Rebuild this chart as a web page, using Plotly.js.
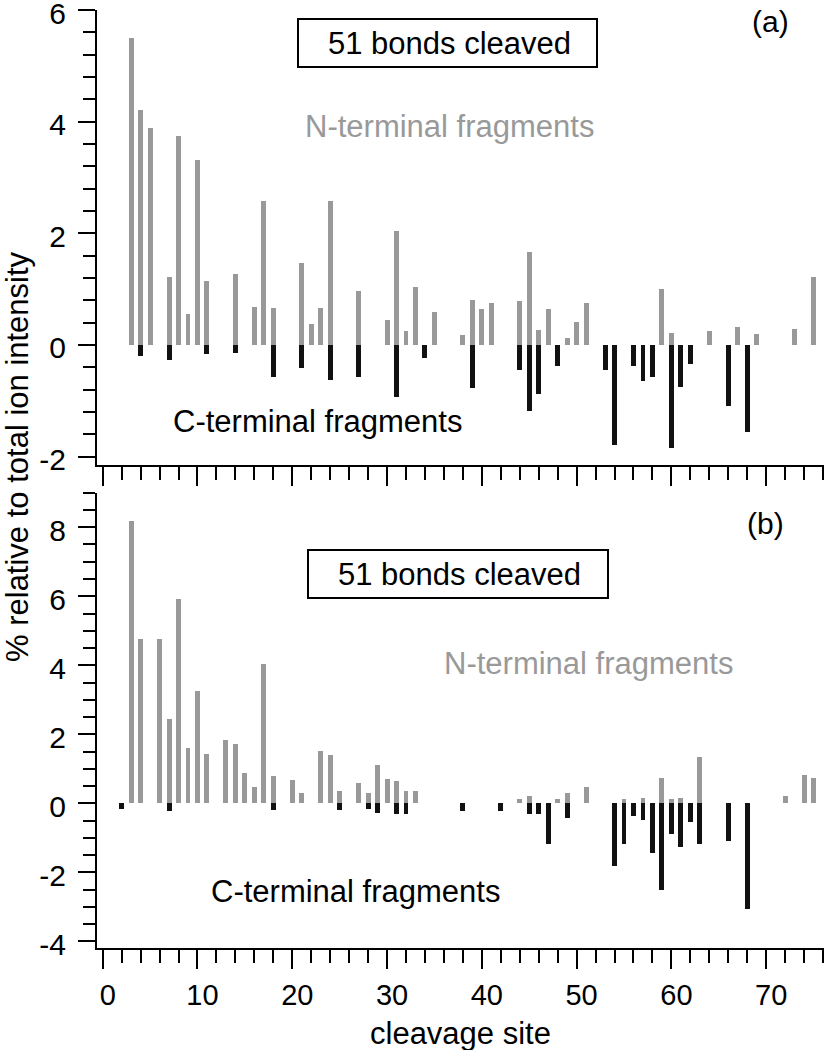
<!DOCTYPE html>
<html>
<head>
<meta charset="utf-8">
<script src="https://cdn.plot.ly/plotly-3.0.1.min.js"></script>
<style>html,body{margin:0;padding:0;background:#fff;}#chart{width:825px;height:1050px;}</style>
</head>
<body>
<div id="chart"></div>
<script>
// ---- Data (panel a) ----
var sitesA_N = [3,4,5,7,8,9,10,11,14,16,17,18,21,22,23,24,27,30,31,32,33,35,38,39,40,41,44,45,46,47,49,50,51,59,60,64,67,69,73,75];
var valsA_N  = [5.50,4.20,3.88,1.22,3.74,0.56,3.32,1.15,1.27,0.68,2.57,0.66,1.46,0.38,0.66,2.57,0.96,0.45,2.05,0.25,1.04,0.59,0.17,0.81,0.64,0.75,0.79,1.66,0.26,0.64,0.13,0.41,0.75,1.00,0.22,0.25,0.32,0.20,0.28,1.22];
var sitesA_C = [4,7,11,14,18,21,24,27,31,34,39,44,45,46,48,53,54,56,57,58,60,61,62,66,68];
var valsA_C  = [-0.20,-0.27,-0.17,-0.14,-0.57,-0.42,-0.63,-0.57,-0.93,-0.23,-0.77,-0.45,-1.19,-0.88,-0.37,-0.45,-1.79,-0.38,-0.64,-0.57,-1.84,-0.75,-0.34,-1.10,-1.56];
// ---- Data (panel b) ----
var sitesB_N = [3,4,6,7,8,9,10,11,13,14,15,16,17,18,20,21,23,24,25,27,28,29,30,31,32,33,44,45,48,49,51,55,57,59,60,61,63,72,74,75];
var valsB_N  = [8.19,4.77,4.77,2.43,5.93,1.59,3.26,1.42,1.83,1.73,0.87,0.48,4.03,0.79,0.68,0.29,1.51,1.39,0.35,0.59,0.29,1.11,0.70,0.65,0.36,0.36,0.12,0.21,0.14,0.29,0.47,0.14,0.17,0.74,0.12,0.17,1.34,0.21,0.81,0.74];
var sitesB_C = [2,7,18,25,28,29,31,32,38,42,45,46,47,49,54,55,56,57,58,59,60,61,62,63,66,68];
var valsB_C  = [-0.17,-0.21,-0.19,-0.19,-0.15,-0.27,-0.30,-0.31,-0.21,-0.21,-0.30,-0.32,-1.18,-0.42,-1.82,-1.18,-0.38,-0.48,-1.45,-2.52,-0.90,-1.25,-0.54,-1.18,-1.10,-3.06];

// ---- Tick labels ----
var yTicksA = [-2, 0, 2, 4, 6];
var yTicksB = [-4, -2, 0, 2, 4, 6, 8];
var xTicks  = [0, 10, 20, 30, 40, 50, 60, 70];

// ---- Text ----
var boxText = "51 bonds cleaved";
var nText = "N-terminal fragments";
var cText = "C-terminal fragments";
var yTitle = "% relative to total ion intensity";
var xTitle = "cleavage site";

var GRAY = "#999999", BLACK = "#111111";
var FONT = "Liberation Sans, Arial, Helvetica, sans-serif";
var W = 825, H = 1050, ML = 97, MR = 1, MT = 10, MB = 102;
var PW = W - ML - MR, PH = H - MT - MB;
function px(x){ return (x - ML) / PW; }
function py(y){ return (H - MB - y) / PH; }
function lbl(v){ return v.map(function(t){ return String(t); }); } // hyphen minus like the reference

var barW = 0.52;
var traces = [
  {type:"bar", x:sitesA_N, y:valsA_N, width:barW, marker:{color:GRAY, line:{width:0}}, xaxis:"x", yaxis:"y"},
  {type:"bar", x:sitesA_C, y:valsA_C, width:barW, marker:{color:BLACK, line:{width:0}}, xaxis:"x", yaxis:"y"},
  {type:"bar", x:sitesB_N, y:valsB_N, width:barW, marker:{color:GRAY, line:{width:0}}, xaxis:"x2", yaxis:"y2"},
  {type:"bar", x:sitesB_C, y:valsB_C, width:barW, marker:{color:BLACK, line:{width:0}}, xaxis:"x2", yaxis:"y2"}
];

function xax(showLabels, anchor){
  return {
    anchor: anchor, domain:[0,1], range:[-0.6, 76.1],
    showline:true, linecolor:"black", linewidth:2,
    ticks:"outside", ticklen:19, tickwidth:2, tickcolor:"black",
    tickmode:"array", tickvals:xTicks, ticktext:lbl(xTicks),
    showticklabels:showLabels,
    ticklabelshift:5, ticklabelstandoff:1, ticklabeloverflow:"allow",
    tickfont:{family:FONT, size:29, color:"black"},
    minor:{ticks:"outside", dtick:2, tick0:0, ticklen:13, tickwidth:2, tickcolor:"black", showgrid:false},
    showgrid:false, zeroline:false, fixedrange:true
  };
}
function yax(domain, range, ticks, minorD, anchor){
  return {
    anchor: anchor, domain:domain, range:range,
    showline:true, linecolor:"black", linewidth:2,
    ticks:"outside", ticklen:17, tickwidth:2, tickcolor:"black",
    tickmode:"array", tickvals:ticks, ticktext:lbl(ticks),
    ticklabelstandoff:6, ticklabelshift:3, ticklabeloverflow:"allow",
    tickfont:{family:FONT, size:30, color:"black"},
    minor:{ticks:"outside", dtick:minorD, tick0:0, ticklen:12, tickwidth:2, tickcolor:"black", showgrid:false},
    showgrid:false, zeroline:false, fixedrange:true
  };
}

function ann(text, x, y, size, color, extra){
  var a = {text:text, x:px(x), y:py(y), xref:"paper", yref:"paper", showarrow:false,
           xanchor:"center", yanchor:"middle", font:{family:FONT, size:size, color:color}};
  if (extra) for (var k in extra) a[k] = extra[k];
  return a;
}
function box(x0, y0, x1, y1){
  return {type:"rect", xref:"paper", yref:"paper", x0:px(x0), x1:px(x1), y0:py(y1), y1:py(y0),
          line:{color:"black", width:2}, fillcolor:"rgba(0,0,0,0)"};
}

var layout = {
  width:W, height:H, margin:{l:ML, r:MR, t:MT, b:MB, pad:0},
  font:{family:FONT, size:30, color:"black"},
  paper_bgcolor:"white", plot_bgcolor:"white",
  showlegend:false, barmode:"overlay", bargap:0,
  xaxis: xax(false, "y"),
  yaxis: yax([py(465), 1], [-2.15, 6.0], yTicksA, 0.4, "x"),
  xaxis2: xax(true, "y2"),
  yaxis2: yax([0, py(492.7)], [-4.19, 9.0], yTicksB, 0.5, "x2"),
  shapes:[ box(298,19,597,67), box(308,550,608,598) ],
  annotations:[
    ann("(a)", 770, 21, 30, "black"),
    ann(boxText, 449, 43, 31, "black"),
    ann(nText, 449.5, 126, 31, GRAY),
    ann(cText, 317.5, 422, 31, "black"),
    ann("(b)", 765, 524, 30, "black"),
    ann(boxText, 459, 574, 31, "black"),
    ann(nText, 588, 663, 31, GRAY),
    ann(cText, 355, 891, 31, "black"),
    ann(yTitle, 18, 457, 31, "black", {textangle:-90}),
    ann(xTitle, 460, 1033, 31, "black")
  ]
};

Plotly.newPlot("chart", traces, layout, {staticPlot:true, displayModeBar:false});
</script>
</body>
</html>
